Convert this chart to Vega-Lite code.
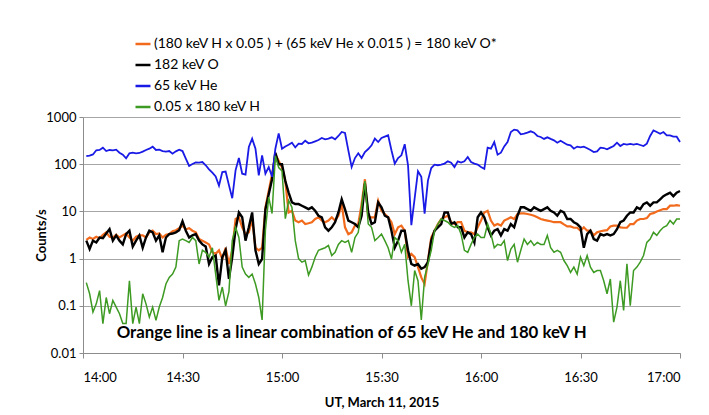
{
"$schema": "https://vega.github.io/schema/vega-lite/v6.json",
"width": 597, "height": 236,
"autosize": {"type": "none"},
"padding": {"left": 83, "top": 117, "right": 29, "bottom": 62},
"background": "white",
"config": {"view": {"stroke": null}, "font": "Lato"},
"datasets": {
"note": [{"t": 81, "v": 0.026, "note": "Orange line is a linear combination of 65 keV He and 180 keV H"}],
"counts": [
{"t":1,"O":2.5,"K":2.4,"B":149,"G":0.31},
{"t":2,"O":2.8,"K":1.6,"B":152,"G":0.18},
{"t":3,"O":2.6,"K":2.4,"B":161,"G":0.074},
{"t":4,"O":2.9,"K":2.2,"B":197,"G":0.11},
{"t":5,"O":2.7,"K":2.8,"B":200,"G":0.21},
{"t":6,"O":3.2,"K":2.7,"B":224,"G":0.042},
{"t":7,"O":3.6,"K":3.4,"B":190,"G":0.15},
{"t":8,"O":2.9,"K":4.2,"B":200,"G":0.068},
{"t":9,"O":2.8,"K":2.4,"B":197,"G":0.13},
{"t":10,"O":3.2,"K":3.1,"B":203,"G":0.094},
{"t":11,"O":2.8,"K":2.4,"B":175,"G":0.068},
{"t":12,"O":3.1,"K":2.0,"B":159,"G":0.042},
{"t":13,"O":3.4,"K":3.3,"B":133,"G":0.042},
{"t":14,"O":2.8,"K":3.9,"B":170,"G":0.34},
{"t":15,"O":2.4,"K":1.8,"B":175,"G":0.042},
{"t":16,"O":2.9,"K":2.4,"B":170,"G":0.094},
{"t":17,"O":3.1,"K":3.1,"B":173,"G":0.042},
{"t":18,"O":3.1,"K":1.7,"B":185,"G":0.18},
{"t":19,"O":2.8,"K":2.8,"B":200,"G":0.11},
{"t":20,"O":3.6,"K":3.9,"B":213,"G":0.058},
{"t":21,"O":3.9,"K":3.6,"B":235,"G":0.094},
{"t":22,"O":3.3,"K":2.4,"B":200,"G":0.049},
{"t":23,"O":3.4,"K":3.1,"B":203,"G":0.094},
{"t":24,"O":2.8,"K":1.36,"B":190,"G":0.15},
{"t":25,"O":3.2,"K":2.8,"B":185,"G":0.29},
{"t":26,"O":3.3,"K":3.3,"B":190,"G":0.4},
{"t":27,"O":3.8,"K":3.4,"B":167,"G":0.47},
{"t":28,"O":4.0,"K":3.6,"B":187,"G":0.66},
{"t":29,"O":4.4,"K":4.0,"B":203,"G":2.4},
{"t":30,"O":5.0,"K":6.2,"B":190,"G":2.6},
{"t":31,"O":4.2,"K":3.9,"B":131,"G":2.4},
{"t":32,"O":4.4,"K":2.8,"B":92,"G":2.2},
{"t":33,"O":3.9,"K":3.1,"B":101,"G":2.8},
{"t":34,"O":3.6,"K":3.3,"B":109,"G":2.4},
{"t":35,"O":2.6,"K":2.4,"B":108,"G":0.77},
{"t":36,"O":2.4,"K":2.0,"B":111,"G":1.5},
{"t":37,"O":2.2,"K":1.8,"B":95,"G":1.36},
{"t":38,"O":2.0,"K":0.77,"B":78,"G":1.07},
{"t":39,"O":1.36,"K":1.07,"B":66,"G":1.7},
{"t":40,"O":1.26,"K":1.16,"B":55,"G":0.47},
{"t":41,"O":1.5,"K":0.27,"B":35,"G":0.13},
{"t":42,"O":0.98,"K":1.07,"B":68,"G":0.25},
{"t":43,"O":1.7,"K":1.5,"B":70,"G":0.1},
{"t":44,"O":0.77,"K":0.37,"B":36,"G":0.2},
{"t":45,"O":1.5,"K":1.07,"B":19,"G":2.4},
{"t":46,"O":6.9,"K":4.2,"B":74,"G":4.6},
{"t":47,"O":7.5,"K":9.5,"B":135,"G":2.8},
{"t":48,"O":4.6,"K":7.5,"B":63,"G":0.66},
{"t":49,"O":3.3,"K":2.4,"B":60,"G":0.47},
{"t":50,"O":3.6,"K":4.6,"B":231,"G":0.4},
{"t":51,"O":6.9,"K":9.5,"B":348,"G":0.47},
{"t":52,"O":1.7,"K":1.5,"B":213,"G":0.29},
{"t":53,"O":1.5,"K":0.77,"B":58,"G":0.15},
{"t":54,"O":1.7,"K":0.98,"B":154,"G":0.05},
{"t":55,"O":12.2,"K":11,"B":63,"G":4.0},
{"t":56,"O":27,"K":23,"B":87,"G":20},
{"t":57,"O":61,"K":48,"B":54,"G":9},
{"t":58,"O":160,"K":175,"B":213,"G":150},
{"t":59,"O":118,"K":100,"B":450,"G":85},
{"t":60,"O":85,"K":100,"B":213,"G":72},
{"t":61,"O":44,"K":44,"B":238,"G":7},
{"t":62,"O":9.5,"K":25,"B":259,"G":17},
{"t":63,"O":10.3,"K":15.5,"B":286,"G":12.2},
{"t":64,"O":6.4,"K":14.3,"B":227,"G":2.4},
{"t":65,"O":5.9,"K":14.3,"B":272,"G":1.0},
{"t":66,"O":6.4,"K":13.2,"B":268,"G":0.84},
{"t":67,"O":5.4,"K":12.2,"B":315,"G":0.91},
{"t":68,"O":5.6,"K":11.2,"B":277,"G":0.45},
{"t":69,"O":5.9,"K":12.2,"B":286,"G":0.66},
{"t":70,"O":6.9,"K":10.3,"B":305,"G":1.07},
{"t":71,"O":7.5,"K":8.1,"B":326,"G":1.5},
{"t":72,"O":6.4,"K":7.5,"B":359,"G":1.6},
{"t":73,"O":5.9,"K":4.6,"B":337,"G":1.7},
{"t":74,"O":6.4,"K":3.9,"B":348,"G":1.9},
{"t":75,"O":7.5,"K":4.6,"B":371,"G":1.16},
{"t":76,"O":6.4,"K":5.9,"B":337,"G":1.36},
{"t":77,"O":8.1,"K":9.5,"B":396,"G":2.0},
{"t":78,"O":14.3,"K":18,"B":481,"G":2.4},
{"t":79,"O":4.6,"K":11,"B":459,"G":2.2},
{"t":80,"O":3.3,"K":6.4,"B":197,"G":2.4},
{"t":81,"O":3.6,"K":5.9,"B":87,"G":1.36},
{"t":82,"O":5.0,"K":5.4,"B":135,"G":2.8},
{"t":83,"O":5.4,"K":4.6,"B":170,"G":3.6},
{"t":84,"O":14.3,"K":8.1,"B":135,"G":12.2},
{"t":85,"O":48,"K":39,"B":181,"G":44},
{"t":86,"O":7.5,"K":9.5,"B":210,"G":5.4},
{"t":87,"O":7.5,"K":5.4,"B":251,"G":4.6},
{"t":88,"O":7.5,"K":5.9,"B":348,"G":2.4},
{"t":89,"O":16.8,"K":15.5,"B":295,"G":2.8},
{"t":90,"O":10.3,"K":12.2,"B":359,"G":3.3},
{"t":91,"O":8.8,"K":8.1,"B":383,"G":2.4},
{"t":92,"O":7.5,"K":7.5,"B":409,"G":1.7},
{"t":93,"O":5.9,"K":3.9,"B":197,"G":0.98},
{"t":94,"O":3.3,"K":1.7,"B":103,"G":2.8},
{"t":95,"O":4.6,"K":2.4,"B":135,"G":2.4},
{"t":96,"O":5.0,"K":3.9,"B":154,"G":1.36},
{"t":97,"O":3.9,"K":3.9,"B":265,"G":2.0},
{"t":98,"O":1.07,"K":1.5,"B":95,"G":0.34},
{"t":99,"O":1.26,"K":0.77,"B":5.1,"G":0.1},
{"t":100,"O":1.07,"K":0.71,"B":19,"G":0.56},
{"t":101,"O":0.66,"K":0.77,"B":71,"G":0.34},
{"t":102,"O":0.4,"K":0.61,"B":54,"G":0.05},
{"t":103,"O":0.29,"K":0.66,"B":9.0,"G":0.4},
{"t":104,"O":0.91,"K":0.84,"B":45,"G":0.77},
{"t":105,"O":2.8,"K":2.4,"B":83,"G":1.5},
{"t":106,"O":3.9,"K":3.9,"B":98,"G":3.9},
{"t":107,"O":5.4,"K":4.6,"B":95,"G":5.4},
{"t":108,"O":6.9,"K":5.4,"B":98,"G":6.9},
{"t":109,"O":7.5,"K":9.5,"B":103,"G":6.4},
{"t":110,"O":8.1,"K":9.5,"B":115,"G":5.9},
{"t":111,"O":5.9,"K":5.4,"B":108,"G":5.0},
{"t":112,"O":5.4,"K":5.9,"B":87,"G":4.6},
{"t":113,"O":5.9,"K":4.6,"B":115,"G":5.0},
{"t":114,"O":5.9,"K":4.6,"B":108,"G":3.3},
{"t":115,"O":3.9,"K":2.8,"B":115,"G":1.5},
{"t":116,"O":3.6,"K":3.6,"B":142,"G":1.36},
{"t":117,"O":3.6,"K":3.3,"B":111,"G":2.0},
{"t":118,"O":3.3,"K":2.2,"B":103,"G":2.8},
{"t":119,"O":4.6,"K":7.5,"B":98,"G":3.3},
{"t":120,"O":6.4,"K":9.5,"B":87,"G":2.8},
{"t":121,"O":9.5,"K":7.5,"B":80,"G":2.8},
{"t":122,"O":10.3,"K":4.6,"B":224,"G":5.4},
{"t":123,"O":6.4,"K":3.1,"B":213,"G":3.3},
{"t":124,"O":5.0,"K":3.9,"B":295,"G":1.7},
{"t":125,"O":5.4,"K":4.2,"B":159,"G":2.0},
{"t":126,"O":5.0,"K":3.1,"B":175,"G":1.9},
{"t":127,"O":6.4,"K":4.2,"B":238,"G":2.4},
{"t":128,"O":6.9,"K":3.9,"B":295,"G":0.91},
{"t":129,"O":7.5,"K":5.4,"B":481,"G":1.6},
{"t":130,"O":6.9,"K":4.6,"B":540,"G":2.0},
{"t":131,"O":8.8,"K":8.1,"B":522,"G":0.84},
{"t":132,"O":9.1,"K":12.2,"B":430,"G":1.5},
{"t":133,"O":9.1,"K":12.2,"B":443,"G":2.6},
{"t":134,"O":8.8,"K":11.2,"B":466,"G":2.0},
{"t":135,"O":8.5,"K":10.3,"B":497,"G":2.4},
{"t":136,"O":8.1,"K":12.2,"B":466,"G":1.9},
{"t":137,"O":7.5,"K":11.2,"B":396,"G":2.2},
{"t":138,"O":6.9,"K":10.3,"B":377,"G":2.0},
{"t":139,"O":6.6,"K":11.2,"B":343,"G":2.0},
{"t":140,"O":6.4,"K":12.2,"B":371,"G":3.1},
{"t":141,"O":6.2,"K":10.3,"B":343,"G":1.7},
{"t":142,"O":5.9,"K":9.5,"B":321,"G":1.36},
{"t":143,"O":5.9,"K":8.1,"B":286,"G":1.5},
{"t":144,"O":5.9,"K":10.3,"B":315,"G":1.36},
{"t":145,"O":5.3,"K":9.5,"B":286,"G":0.91},
{"t":146,"O":4.8,"K":6.9,"B":259,"G":0.71},
{"t":147,"O":4.8,"K":6.9,"B":251,"G":0.51},
{"t":148,"O":4.5,"K":5.9,"B":213,"G":0.66},
{"t":149,"O":4.5,"K":5.4,"B":236,"G":0.47},
{"t":150,"O":3.9,"K":4.6,"B":227,"G":1.07},
{"t":151,"O":4.6,"K":1.7,"B":236,"G":0.71},
{"t":152,"O":3.9,"K":3.3,"B":217,"G":1.16},
{"t":153,"O":3.9,"K":3.9,"B":200,"G":0.66},
{"t":154,"O":3.1,"K":2.6,"B":181,"G":0.51},
{"t":155,"O":3.6,"K":2.4,"B":187,"G":0.56},
{"t":156,"O":3.8,"K":3.3,"B":224,"G":0.56},
{"t":157,"O":3.9,"K":3.1,"B":220,"G":0.34},
{"t":158,"O":4.0,"K":3.3,"B":206,"G":0.18},
{"t":159,"O":4.8,"K":3.1,"B":224,"G":0.37},
{"t":160,"O":5.0,"K":3.3,"B":243,"G":0.045},
{"t":161,"O":5.0,"K":4.2,"B":286,"G":0.094},
{"t":162,"O":4.6,"K":5.9,"B":243,"G":0.34},
{"t":163,"O":4.5,"K":6.4,"B":268,"G":0.08},
{"t":164,"O":4.5,"K":8.1,"B":259,"G":0.78},
{"t":165,"O":5.4,"K":9.5,"B":268,"G":0.1},
{"t":166,"O":5.4,"K":9.5,"B":259,"G":0.56},
{"t":167,"O":6.4,"K":12.2,"B":268,"G":0.66},
{"t":168,"O":6.9,"K":11.2,"B":255,"G":0.84},
{"t":169,"O":6.9,"K":14.3,"B":243,"G":1.16},
{"t":170,"O":7.2,"K":15.5,"B":272,"G":2.2},
{"t":171,"O":8.8,"K":13.2,"B":396,"G":2.6},
{"t":172,"O":9.2,"K":15.5,"B":522,"G":3.6},
{"t":173,"O":10.0,"K":15.5,"B":481,"G":3.1},
{"t":174,"O":10.6,"K":18,"B":443,"G":3.9},
{"t":175,"O":11.2,"K":21,"B":481,"G":4.6},
{"t":176,"O":11.2,"K":23,"B":409,"G":5.0},
{"t":177,"O":13.2,"K":25,"B":409,"G":6.4},
{"t":178,"O":13.2,"K":21,"B":383,"G":5.4},
{"t":179,"O":13.6,"K":25,"B":383,"G":6.9},
{"t":180,"O":13.2,"K":27,"B":295,"G":6.9}
]},
"layer": [
  {"data": {"name": "counts"},
   "transform": [{"fold": ["O", "K", "B", "G"], "as": ["s", "v"]}],
   "encoding": {
     "x": {"field": "t", "type": "quantitative",
       "scale": {"domain": [0, 180], "nice": false, "zero": false},
       "axis": {"values": [0, 30, 60, 90, 120, 150, 180],
         "labelExpr": "floor((840 + datum.value) / 60) + ':' + (datum.value % 60 == 0 ? '00' : '30')",
         "grid": false, "domainColor": "#8c8c8c", "tickColor": "#8c8c8c", "tickSize": 5,
         "labelFont": "Lato", "labelFontSize": 13, "labelColor": "#000000", "labelPadding": 13,
         "title": "UT, March 11, 2015", "titleFont": "Lato", "titleFontSize": 13, "titleFontWeight": "bold", "titleColor": "#000000", "titlePadding": 12}},
     "y": {"field": "v", "type": "quantitative",
       "scale": {"type": "log", "domain": [0.01, 1000], "nice": false},
       "axis": {"values": [0.01, 0.1, 1, 10, 100, 1000], "format": "~g",
         "grid": true, "gridColor": "#a6a6a6", "gridWidth": 1,
         "domainColor": "#8c8c8c", "tickColor": "#8c8c8c", "tickSize": 4,
         "labelFont": "Lato", "labelFontSize": 13, "labelColor": "#000000", "labelPadding": 3,
         "title": "Counts/s", "titleFont": "Lato", "titleFontSize": 13, "titleFontWeight": "bold", "titleColor": "#000000", "titlePadding": -3}},
     "color": {"field": "s", "type": "nominal",
       "scale": {"domain": ["O", "K", "B", "G"], "range": ["#f26b1d", "#000000", "#1a1ae6", "#3d9a22"]},
       "legend": {"orient": "none", "legendX": 51, "legendY": -82, "title": null,
         "symbolType": "stroke", "symbolSize": 225, "symbolStrokeWidth": 2.5, "labelOffset": 2,
         "labelFont": "Lato", "labelFontSize": 14, "labelColor": "#000000", "labelLimit": 600, "rowPadding": 5,
         "labelExpr": "datum.label == 'O' ? '(180 keV H x  0.05 ) + (65 keV He x 0.015 ) = 180 keV O*' : datum.label == 'K' ? '182 keV O' : datum.label == 'B' ? '65 keV He' : '0.05 x 180 keV H'"}}
   },
   "layer": [
     {"transform": [{"filter": "datum.s == 'O'"}], "mark": {"type": "line", "strokeWidth": 2.2}},
     {"transform": [{"filter": "datum.s == 'K'"}], "mark": {"type": "line", "strokeWidth": 2.4}},
     {"transform": [{"filter": "datum.s == 'B'"}], "mark": {"type": "line", "strokeWidth": 1.8}},
     {"transform": [{"filter": "datum.s == 'G'"}], "mark": {"type": "line", "strokeWidth": 1.5}}
   ]},
  {"data": {"name": "note"},
   "mark": {"type": "text", "font": "Lato", "fontSize": 16.8, "fontWeight": "bold", "align": "center", "baseline": "middle", "fill": "#000000"},
   "encoding": {
     "x": {"field": "t", "type": "quantitative"},
     "y": {"field": "v", "type": "quantitative"},
     "text": {"field": "note", "type": "nominal"}}}
]
}
